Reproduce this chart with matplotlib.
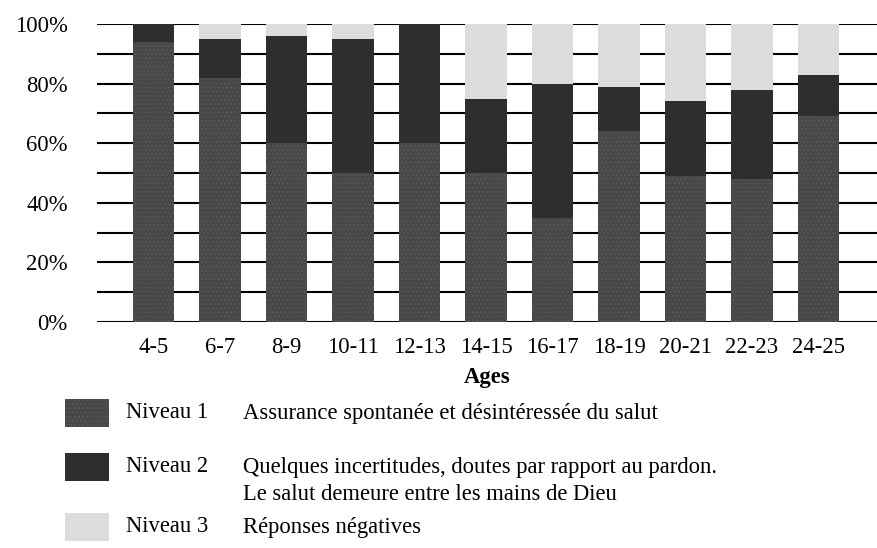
import numpy as np
import matplotlib
matplotlib.use("Agg")
import matplotlib.pyplot as plt
from matplotlib.patches import Rectangle

# data (percent of answers per age group)
ages = ["4-5", "6-7", "8-9", "10-11", "12-13", "14-15",
        "16-17", "18-19", "20-21", "22-23", "24-25"]
niveau1 = [94, 82, 60, 50, 60, 50, 35, 64, 49, 48, 69]
niveau2 = [6, 13, 36, 45, 40, 25, 45, 15, 25, 30, 14]
niveau3 = [0, 5, 4, 5, 0, 25, 20, 21, 26, 22, 17]

yticks = [0, 20, 40, 60, 80, 100]
legend_names = ["Niveau 1", "Niveau 2", "Niveau 3"]
legend_texts = [["Assurance spontanée et désintéressée du salut"],
                ["Quelques incertitudes, doutes par rapport au pardon.",
                 "Le salut demeure entre les mains de Dieu"],
                ["Réponses négatives"]]

col1 = "#484848"
col2 = "#2e2e2e"
col3 = "#dcdcdc"
colors = [col1, col2, col3]
fs = 16.3

plt.rcParams["font.family"] = ["Liberation Serif", "DejaVu Serif"]
plt.rcParams["hatch.linewidth"] = 0.6

fig = plt.figure(figsize=(8.77, 5.48), dpi=100)
ax = fig.add_axes([97 / 877, (548 - 322) / 548, 780 / 877, 298 / 548])

x = np.arange(len(ages))
w = 0.63
n1 = np.array(niveau1)
n2 = np.array(niveau2)
n3 = np.array(niveau3)

# horizontal rules every 10 %
for yy in range(0, 101, 10):
    ax.axhline(yy, color="black", lw=1.5, zorder=1)

ax.bar(x, n1, w, color=col1, edgecolor="#5a5a5a", lw=0, hatch="....", zorder=2)
ax.bar(x, n2, w, bottom=n1, color=col2, lw=0, zorder=2)
ax.bar(x, n3, w, bottom=n1 + n2, color=col3, lw=0, zorder=2)

ax.set_xlim(-0.85, 10.88)
ax.set_ylim(0, 100)
ax.set_yticks(yticks)
ax.set_yticklabels([f"{t}%" for t in yticks])
ax.set_xticks(x)
ax.set_xticklabels(ages)
ax.tick_params(length=0, labelsize=fs)
ax.tick_params(axis="y", pad=21)
ax.tick_params(axis="x", pad=11)
for s in ax.spines.values():
    s.set_visible(False)
ax.set_xlabel("Ages", fontsize=fs, fontweight="bold", labelpad=6)

# legend drawn by hand below the chart
rows_y = [413, 467, 527]
for i in range(3):
    yc = rows_y[i]
    rect = Rectangle((65 / 877, (548 - yc - 14) / 548), 44 / 877, 28 / 548,
                     transform=fig.transFigure, facecolor=colors[i], lw=0,
                     hatch="...." if i == 0 else None, edgecolor="#5a5a5a")
    fig.add_artist(rect)
    fig.text(126 / 877, (548 - yc) / 548, legend_names[i], fontsize=fs,
             va="center", ha="left")
    for j, line in enumerate(legend_texts[i]):
        fig.text(243 / 877, (548 - yc - 28 * j) / 548, line, fontsize=fs,
                 va="center", ha="left")

fig.savefig("out.png", dpi=100)
